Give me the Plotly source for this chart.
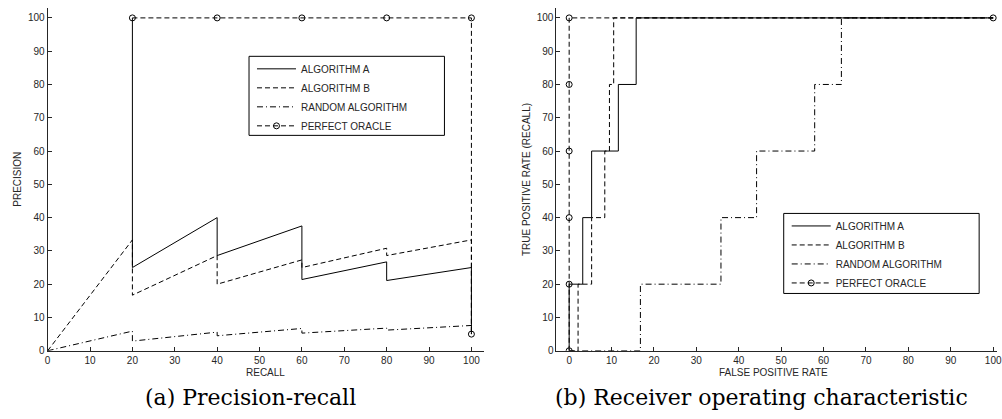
import plotly.graph_objects as go

# ---------------- data: precision-recall ----------------
pr_a_recall = [20, 20, 40, 40, 60, 60, 80, 80, 100, 100]
pr_a_prec = [100, 25, 40, 28.6, 37.5, 21.4, 26.7, 21.1, 25, 5]
pr_b_recall = [0, 20, 20, 40, 40, 60, 60, 80, 80, 100, 100]
pr_b_prec = [0, 33.3, 16.7, 28.6, 20, 27.3, 25, 30.8, 28.6, 33.3, 5]
pr_r_recall = [0, 20, 20, 40, 40, 60, 60, 80, 80, 100, 100]
pr_r_prec = [0, 5.9, 2.9, 5.6, 4.5, 6.7, 5.3, 6.8, 6.2, 7.6, 5]
pr_o_recall = [20, 40, 60, 80, 100, 100]
pr_o_prec = [100, 100, 100, 100, 100, 5]

# ---------------- data: ROC ----------------
roc_a_fpr = [0, 0, 3.2, 3.2, 5.3, 5.3, 11.6, 11.6, 15.8, 15.8, 100]
roc_a_tpr = [0, 20, 20, 40, 40, 60, 60, 80, 80, 100, 100]
roc_b_fpr = [0, 2.1, 2.1, 5.3, 5.3, 8.4, 8.4, 9.5, 9.5, 10.5, 10.5, 100]
roc_b_tpr = [0, 0, 20, 20, 40, 40, 60, 60, 80, 80, 100, 100]
roc_r_fpr = [0, 16.8, 16.8, 35.8, 35.8, 44.2, 44.2, 57.9, 57.9, 64.2, 64.2, 100]
roc_r_tpr = [0, 0, 20, 20, 40, 40, 60, 60, 80, 80, 100, 100]
roc_o_fpr = [0, 0, 0, 0, 0, 0, 100]
roc_o_tpr = [0, 20, 40, 60, 80, 100, 100]

tick_vals = [0, 10, 20, 30, 40, 50, 60, 70, 80, 90, 100]
names = ["ALGORITHM A", "ALGORITHM B", "RANDOM ALGORITHM", "PERFECT ORACLE"]

W, H = 1002, 419
AX = "#262626"
DASH = "5px,3px"
DASHDOT = "6px,3px,1px,3px"

fig = go.Figure()


def add_set(xs, ys, xa, ya, leg):
    styles = [
        dict(mode="lines", line=dict(color="black", width=1, dash="solid")),
        dict(mode="lines", line=dict(color="black", width=1, dash=DASH)),
        dict(mode="lines", line=dict(color="black", width=1, dash=DASHDOT)),
        dict(mode="lines+markers", line=dict(color="black", width=1, dash=DASH),
             marker=dict(symbol="circle-open", size=6, color="black", line=dict(width=1, color="black"))),
    ]
    order = [3, 1, 2, 0]
    for i in order:
        fig.add_trace(go.Scatter(x=xs[i], y=ys[i], name=names[i], xaxis=xa, yaxis=ya,
                                 legend=leg, legendrank=i + 1, **styles[i]))


add_set([pr_a_recall, pr_b_recall, pr_r_recall, pr_o_recall],
        [pr_a_prec, pr_b_prec, pr_r_prec, pr_o_prec], "x", "y", "legend")
add_set([roc_a_fpr, roc_b_fpr, roc_r_fpr, roc_o_fpr],
        [roc_a_tpr, roc_b_tpr, roc_r_tpr, roc_o_tpr], "x2", "y2", "legend2")

ydom = [1 - 355 / H, 1 - 8 / H]
axcommon = dict(showline=True, linecolor=AX, linewidth=1, ticks="inside", ticklen=4,
                tickcolor=AX, tickwidth=1, showgrid=False, zeroline=False,
                tickfont=dict(family="Liberation Sans, Arial", size=10, color=AX),
                tickvals=tick_vals, fixedrange=True, ticklabeloverflow="allow")

legcommon = dict(bgcolor="rgba(0,0,0,0)", borderwidth=0,
                 font=dict(family="Liberation Sans, Arial", size=10, color=AX),
                 xanchor="left", yanchor="top", itemwidth=39, tracegroupgap=0)

# legend frames (boxes in pixel coordinates of the page)
boxes = [(248, 57, 445, 137), (787, 216, 984, 297)]

fig.update_layout(
    width=W, height=H, margin=dict(l=0, r=0, t=0, b=0),
    paper_bgcolor="white", plot_bgcolor="white", showlegend=True,
    xaxis=dict(domain=[45 / W, 485 / W], range=[0, 103], anchor="y", **axcommon),
    yaxis=dict(domain=ydom, range=[0, 103], anchor="x", **axcommon),
    xaxis2=dict(domain=[557.9 / W, 1], range=[-3, 100.9], anchor="y2", **axcommon),
    yaxis2=dict(domain=ydom, range=[0, 103], anchor="x2", **axcommon),
    legend=dict(x=251 / W, y=1 - 55 / H, **legcommon),
    legend2=dict(x=790 / W, y=1 - 214 / H, **legcommon),
)

for (x0, y0, x1, y1) in boxes:
    fig.add_shape(type="rect", xref="paper", yref="paper", layer="above",
                  x0=x0 / W, x1=x1 / W, y0=1 - y1 / H, y1=1 - y0 / H,
                  line=dict(color="black", width=1), fillcolor="white")

small = dict(family="Liberation Sans, Arial", size=10, color=AX)
serif = dict(family="DejaVu Serif, Liberation Serif, serif", size=22, color="black")
ann = [
    dict(text="RECALL", x=265 / W, y=1 - 377 / H, font=small, textangle=0),
    dict(text="PRECISION", x=14.5 / W, y=1 - 181.5 / H, font=small, textangle=-90),
    dict(text="FALSE POSITIVE RATE", x=777 / W, y=1 - 377 / H, font=small, textangle=0),
    dict(text="TRUE POSITIVE RATE (RECALL)", x=528 / W, y=1 - 181.5 / H, font=small, textangle=-90),
    dict(text="(a) Precision-recall", x=249 / W, y=1 - 402 / H, font=serif, textangle=0),
    dict(text="(b) Receiver operating characteristic", x=765 / W, y=1 - 402 / H, font=serif, textangle=0),
]
for a in ann:
    fig.add_annotation(xref="paper", yref="paper", xanchor="center", yanchor="middle",
                       showarrow=False, **a)

fig.write_html("out.html")
